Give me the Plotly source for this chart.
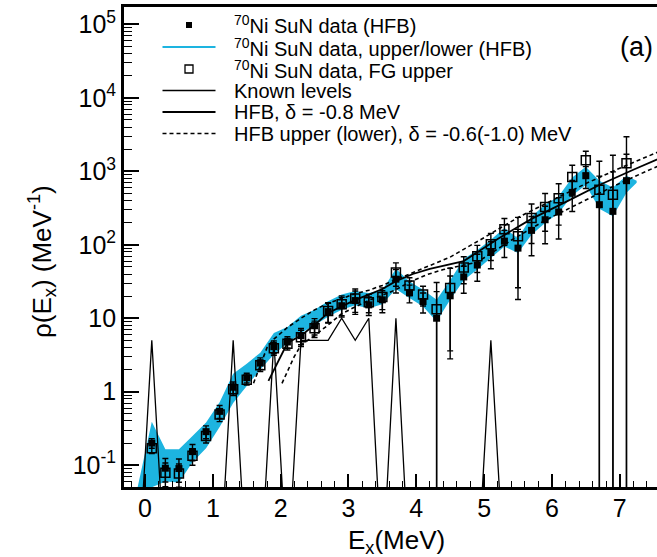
import plotly.graph_objects as go

# ---------------- data ----------------
# excitation-energy bin centres (MeV)
E = [0.1, 0.3, 0.5, 0.7, 0.9, 1.1, 1.3, 1.5, 1.7, 1.9, 2.1, 2.3, 2.5, 2.7, 2.9, 3.1, 3.3, 3.5,
     3.7, 3.9, 4.1, 4.3, 4.5, 4.7, 4.9, 5.1, 5.3, 5.5, 5.7, 5.9, 6.1, 6.3, 6.5, 6.7, 6.9, 7.1]

# 70Ni SuN data (HFB normalisation)
rho_hfb = [0.20, 0.091, 0.090, 0.153, 0.286, 0.54, 1.15, 1.55, 2.45, 4.1, 4.75, 5.8, 7.9, 12.3,
           14.8, 17.4, 15.2, 17.8, 34.0, 22.2, 16.9, 10.0, 20.2, 36.5, 53.0, 78.5, 112.0, 90.0,
           157.0, 219.0, 279.0, 516.0, 870.0, 351.0, 285.0, 745.0]
err_hfb = [0.03, 0.032, 0.0315, 0.038, 0.057, 0.108, 0.207, 0.233, 0.44, 0.82, 0.855, 1.45, 1.98,
           3.7, 4.4, 6.1, 4.3, 5.9, 11.9, 6.0, 5.1, 13.0, 17.4, 14.6, 21.2, 31.4, 44.8, 72.0,
           86.0, 116.0, 159.0, 232.0, 287.0, 509.0, 698.0, 961.0]

# 70Ni SuN data, FG upper normalisation
rho_fg = [0.17, 0.079, 0.077, 0.134, 0.25, 0.49, 1.08, 1.45, 2.3, 3.9, 4.5, 5.5, 7.3, 12.5,
          15.5, 18.5, 16.5, 19.5, 42.0, 28.0, 21.0, 13.3, 25.7, 49.0, 70.0, 102.0, 163.0, 131.0,
          231.0, 326.0, 431.0, 834.0, 1410.0, 560.0, 480.0, 1290.0]
err_fg = [0.026, 0.028, 0.027, 0.034, 0.05, 0.098, 0.194, 0.218, 0.414, 0.78, 0.81, 1.375, 1.83,
          3.75, 4.65, 6.5, 4.6, 6.4, 14.7, 7.6, 6.3, 17.3, 22.1, 19.6, 28.0, 40.8, 65.0, 105.0,
          127.0, 173.0, 246.0, 375.0, 465.0, 812.0, 1176.0, 1664.0]

# upper / lower HFB band
band_E = [-0.12, 0.1, 0.3, 0.5, 0.7, 0.9, 1.1, 1.3, 1.5, 1.7, 1.9, 2.1, 2.3, 2.5, 2.7, 2.9, 3.1,
          3.3, 3.5, 3.7, 3.9, 4.1, 4.3, 4.5, 4.7, 4.9, 5.1, 5.3, 5.5, 5.7, 5.9, 6.1, 6.3, 6.5,
          6.7, 6.9, 7.1, 7.25]
band_hi = [0.045, 0.39, 0.165, 0.165, 0.25, 0.38, 0.72, 1.75, 2.4, 3.4, 6.3, 7.6, 10.8, 13.0,
           17.0, 21.0, 23.5, 22.0, 24.0, 47.0, 31.6, 24.4, 17.8, 33.0, 64.0, 85.0, 117.0, 169.0,
           123.0, 243.0, 351.0, 456.0, 820.0, 1150.0, 745.0, 600.0, 870.0, 745.0]
band_lo = [0.025, 0.05, 0.06, 0.058, 0.11, 0.17, 0.33, 0.7, 1.2, 2.0, 3.2, 4.6, 6.3, 8.0, 10.5,
           13.0, 15.0, 13.7, 15.5, 25.0, 18.8, 14.5, 9.0, 17.8, 33.0, 46.0, 66.0, 95.0, 77.0,
           137.0, 198.0, 270.0, 470.0, 650.0, 310.0, 245.0, 510.0, 700.0]

# known levels: level density per 0.2 MeV bin (MeV^-1), 0 = empty bin
known_E = [-0.1] + E
known_rho = [0, 5, 0, 0, 0, 0, 0, 5, 0, 0, 5, 0, 5, 5, 5, 10, 5, 10, 0, 10, 0, 0, 0, 0, 0, 0,
             5, 0, 0, 0, 0, 0, 0, 0, 0, 0, 0]

# HFB, delta = -0.8 MeV
hfb_E = [1.82, 2.0, 2.1, 2.3, 2.5, 2.7, 2.9, 3.1, 3.3, 3.5, 3.7, 3.95, 4.2, 4.7, 5.2, 5.7, 6.2,
         6.7, 7.2, 7.7]
hfb_rho = [1.4, 3.0, 4.6, 5.8, 8.1, 11.8, 14.6, 17.8, 21.0, 25.0, 32.0, 40.0, 47.0, 60.0, 120.0,
           225.0, 380.0, 650.0, 1050.0, 1665.0]
# HFB upper, delta = -0.6 MeV (drawn above) and lower, delta = -1.0 MeV
hfb_up_E = [1.6, 1.8, 1.9, 2.1, 2.3, 2.5, 2.7, 2.9, 3.1, 3.3, 3.5, 3.75, 4.0, 4.5, 5.0, 5.5, 6.0,
            6.5, 7.0, 7.5, 8.0]
hfb_up = [1.3, 4.0, 5.2, 7.5, 10.0, 13.0, 16.0, 18.5, 21.5, 24.0, 28.0, 35.0, 44.0, 68.0, 125.0,
          235.0, 400.0, 680.0, 1100.0, 1750.0, 2700.0]
hfb_lo_E = [2.02, 2.2, 2.3, 2.5, 2.7, 2.9, 3.1, 3.3, 3.5, 3.7, 3.9, 4.15, 4.4, 4.9, 5.4, 5.9, 6.4,
            6.9, 7.4, 7.9]
hfb_lo = [1.3, 3.0, 4.3, 5.8, 8.1, 11.5, 14.3, 17.5, 20.5, 24.5, 31.0, 39.0, 46.0, 58.0, 115.0,
          215.0, 365.0, 620.0, 1010.0, 1600.0]

x_ticks = [0, 1, 2, 3, 4, 5, 6, 7]
y_ticks = [1e-1, 1, 10, 1e2, 1e3, 1e4, 1e5]
y_ticktext = ["10<sup>-1</sup>", "1", "10", "10<sup>2</sup>", "10<sup>3</sup>",
              "10<sup>4</sup>", "10<sup>5</sup>"]

# ---------------- styling / layout constants ----------------
FONT = "Liberation Sans, Arial, Helvetica, sans-serif"
CYAN = "#1db4e0"
W, H = 657, 557
ML, MR, MT, MB = 124, 0, 7, 70
PW, PH = W - ML - MR, H - MT - MB
EMPTY_FLOOR = 0.003   # empty bins are drawn down below the frame, as ROOT does on a log axis


def px(xp):
    return (xp - ML) / PW


def py(yp):
    return (H - MB - yp) / PH


fig = go.Figure()

# band (upper/lower HFB)
fig.add_trace(go.Scatter(
    x=band_E + band_E[::-1], y=band_hi + band_lo[::-1],
    fill="toself", fillcolor=CYAN, line=dict(width=0, color=CYAN),
    mode="lines", hoverinfo="skip", showlegend=False))

# known levels
fig.add_trace(go.Scatter(
    x=known_E, y=[v if v > 0 else EMPTY_FLOOR for v in known_rho],
    mode="lines", line=dict(color="black", width=1.3), showlegend=False))

# HFB lines
fig.add_trace(go.Scatter(x=hfb_E, y=hfb_rho, mode="lines",
                         line=dict(color="black", width=1.8), showlegend=False))
fig.add_trace(go.Scatter(x=hfb_up_E, y=hfb_up, mode="lines",
                         line=dict(color="black", width=1.6, dash="4px,3px"), showlegend=False))
fig.add_trace(go.Scatter(x=hfb_lo_E, y=hfb_lo, mode="lines",
                         line=dict(color="black", width=1.6, dash="4px,3px"), showlegend=False))

# FG upper (open squares)
fig.add_trace(go.Scatter(
    x=E, y=rho_fg, mode="markers",
    marker=dict(symbol="square-open", size=9, color="black", line=dict(width=1.5, color="black")),
    error_y=dict(type="data", array=err_fg, color="black", thickness=1.4, width=3),
    showlegend=False))

# HFB data (filled squares)
fig.add_trace(go.Scatter(
    x=E, y=rho_hfb, mode="markers",
    marker=dict(symbol="square", size=7, color="black"),
    error_y=dict(type="data", array=err_hfb, color="black", thickness=1.4, width=3),
    showlegend=False))

# ---------------- legend drawn inside the frame ----------------
rows = [25, 47, 69, 90.5, 112, 133.5]
labels = ["<sup>70</sup>Ni SuN data (HFB)",
          "<sup>70</sup>Ni SuN data, upper/lower (HFB)",
          "<sup>70</sup>Ni SuN data, FG upper",
          "Known levels",
          "HFB, δ = -0.8 MeV",
          "HFB upper (lower), δ = -0.6(-1.0) MeV"]
annotations = []
for r, t in zip(rows, labels):
    annotations.append(dict(x=px(232), y=py(r), xref="paper", yref="paper", text=t,
                            showarrow=False, xanchor="left", yanchor="middle",
                            font=dict(family=FONT, size=20, color="black")))
shapes = []
lx0, lx1, sx = 162.5, 215.5, 189
shapes.append(dict(type="rect", xref="paper", yref="paper", x0=px(sx - 3), x1=px(sx + 3),
                   y0=py(rows[0] + 3), y1=py(rows[0] - 3), fillcolor="black", line=dict(width=0)))
shapes.append(dict(type="line", xref="paper", yref="paper", x0=px(lx0), x1=px(lx1),
                   y0=py(rows[1]), y1=py(rows[1]), line=dict(color=CYAN, width=2.2)))
shapes.append(dict(type="rect", xref="paper", yref="paper", x0=px(sx - 4), x1=px(sx + 4),
                   y0=py(rows[2] + 4), y1=py(rows[2] - 4), line=dict(color="black", width=1.3)))
shapes.append(dict(type="line", xref="paper", yref="paper", x0=px(lx0), x1=px(lx1),
                   y0=py(rows[3]), y1=py(rows[3]), line=dict(color="black", width=1.3)))
shapes.append(dict(type="line", xref="paper", yref="paper", x0=px(lx0), x1=px(lx1),
                   y0=py(rows[4]), y1=py(rows[4]), line=dict(color="black", width=1.8)))
shapes.append(dict(type="line", xref="paper", yref="paper", x0=px(lx0), x1=px(lx1),
                   y0=py(rows[5]), y1=py(rows[5]), line=dict(color="black", width=1.6, dash="4px,3px")))

# panel label, axis titles
annotations.append(dict(x=px(655), y=py(47), xref="paper", yref="paper", text="(a)",
                        showarrow=False, xanchor="right", yanchor="middle",
                        font=dict(family=FONT, size=27, color="black")))
annotations.append(dict(x=px(396), y=py(523), xref="paper", yref="paper",
                        text="E<sub>x</sub>(MeV)", showarrow=False, xanchor="center",
                        yanchor="top", font=dict(family=FONT, size=26, color="black")))
annotations.append(dict(x=px(42), y=py(262), xref="paper", yref="paper",
                        text="ρ(E<sub>x</sub>) (MeV<sup>-1</sup>)", textangle=-90,
                        showarrow=False, xanchor="center", yanchor="middle",
                        font=dict(family=FONT, size=26, color="black")))

x_minor = [round(-0.2 + 0.2 * k, 1) for k in range(40)]
x_minor = [v for v in x_minor if abs(v - round(v)) > 1e-6]
y_minor = [m * 10.0 ** p for p in range(-2, 6) for m in range(2, 10)]

fig.update_layout(
    width=W, height=H, margin=dict(l=ML, r=MR, t=MT, b=MB),
    paper_bgcolor="white", plot_bgcolor="white",
    font=dict(family=FONT, size=25, color="black"),
    annotations=annotations, shapes=shapes, showlegend=False,
    xaxis=dict(range=[-0.31, 7.55], tickmode="array", tickvals=x_ticks,
               ticktext=[str(v) for v in x_ticks], ticks="inside", ticklen=13, tickwidth=1.5,
               tickcolor="black", showline=True, linewidth=2.8, linecolor="black", mirror=True,
               showgrid=False, zeroline=False, tickfont=dict(family=FONT, size=25),
               ticklabelstandoff=-3,
               minor=dict(tickmode="array", tickvals=x_minor, ticks="inside", ticklen=6,
                          tickwidth=1.3, tickcolor="black", showgrid=False)),
    yaxis=dict(type="log", range=[-1.297, 5.236], tickmode="array", tickvals=y_ticks,
               ticktext=y_ticktext, ticks="inside", ticklen=15, tickwidth=1.5, tickcolor="black",
               showline=True, linewidth=2.8, linecolor="black", mirror=False, showgrid=False,
               zeroline=False, tickfont=dict(family=FONT, size=25),
               minor=dict(tickmode="array", tickvals=y_minor, ticks="inside", ticklen=8,
                          tickwidth=1.3, tickcolor="black", showgrid=False)),
)

fig.write_html("out.html")
